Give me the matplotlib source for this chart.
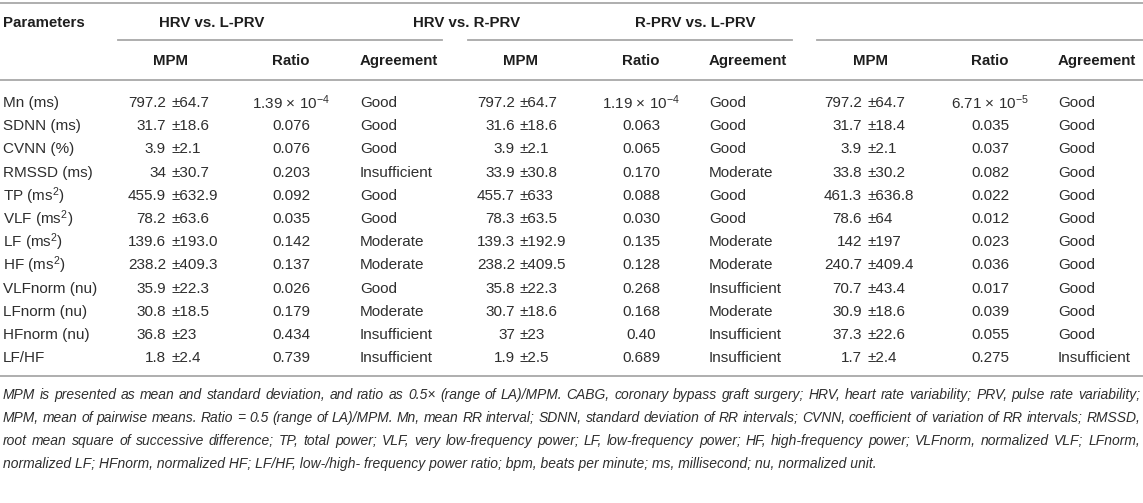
import matplotlib
matplotlib.use('Agg')
import matplotlib.pyplot as plt

plt.rcParams['font.family'] = ['Liberation Sans', 'DejaVu Sans']
plt.rcParams['mathtext.fontset'] = 'custom'
plt.rcParams['mathtext.rm'] = 'Liberation Sans'
plt.rcParams['mathtext.it'] = 'Liberation Sans:italic'

# table data
params = ['Mn (ms)', 'SDNN (ms)', 'CVNN (%)', 'RMSSD (ms)', 'TP (ms$^2$)', 'VLF (ms$^2$)',
          'LF (ms$^2$)', 'HF (ms$^2$)', 'VLFnorm (nu)', 'LFnorm (nu)', 'HFnorm (nu)', 'LF/HF']
groups = ['HRV vs. L-PRV', 'HRV vs. R-PRV', 'R-PRV vs. L-PRV']
sub_headers = ['MPM', 'Ratio', 'Agreement']

mean_1 = ['797.2', '31.7', '3.9', '34', '455.9', '78.2', '139.6', '238.2', '35.9', '30.8', '36.8', '1.8']
sd_1 = ['64.7', '18.6', '2.1', '30.7', '632.9', '63.6', '193.0', '409.3', '22.3', '18.5', '23', '2.4']
ratio_1 = [r'1.39 $\times$ 10$^{-4}$', '0.076', '0.076', '0.203', '0.092', '0.035', '0.142', '0.137',
           '0.026', '0.179', '0.434', '0.739']
agree_1 = ['Good', 'Good', 'Good', 'Insufficient', 'Good', 'Good', 'Moderate', 'Moderate',
           'Good', 'Moderate', 'Insufficient', 'Insufficient']

mean_2 = ['797.2', '31.6', '3.9', '33.9', '455.7', '78.3', '139.3', '238.2', '35.8', '30.7', '37', '1.9']
sd_2 = ['64.7', '18.6', '2.1', '30.8', '633', '63.5', '192.9', '409.5', '22.3', '18.6', '23', '2.5']
ratio_2 = [r'1.19 $\times$ 10$^{-4}$', '0.063', '0.065', '0.170', '0.088', '0.030', '0.135', '0.128',
           '0.268', '0.168', '0.40', '0.689']
agree_2 = ['Good', 'Good', 'Good', 'Moderate', 'Good', 'Good', 'Moderate', 'Moderate',
           'Insufficient', 'Moderate', 'Insufficient', 'Insufficient']

mean_3 = ['797.2', '31.7', '3.9', '33.8', '461.3', '78.6', '142', '240.7', '70.7', '30.9', '37.3', '1.7']
sd_3 = ['64.7', '18.4', '2.1', '30.2', '636.8', '64', '197', '409.4', '43.4', '18.6', '22.6', '2.4']
ratio_3 = [r'6.71 $\times$ 10$^{-5}$', '0.035', '0.037', '0.082', '0.022', '0.012', '0.023', '0.036',
           '0.017', '0.039', '0.055', '0.275']
agree_3 = ['Good', 'Good', 'Good', 'Good', 'Good', 'Good', 'Good', 'Good',
           'Good', 'Good', 'Good', 'Insufficient']

footnote = [
    'MPM is presented as mean and standard deviation, and ratio as 0.5\u00d7 (range of LA)/MPM. CABG, coronary bypass graft surgery; HRV, heart rate variability; PRV, pulse rate variability;',
    'MPM, mean of pairwise means. Ratio = 0.5 (range of LA)/MPM. Mn, mean RR interval; SDNN, standard deviation of RR intervals; CVNN, coefficient of variation of RR intervals; RMSSD,',
    'root mean square of successive difference; TP, total power; VLF, very low-frequency power; LF, low-frequency power; HF, high-frequency power; VLFnorm, normalized VLF; LFnorm,',
    'normalized LF; HFnorm, normalized HF; LF/HF, low-/high- frequency power ratio; bpm, beats per minute; ms, millisecond; nu, normalized unit.',
]

means = [mean_1, mean_2, mean_3]
sds = [sd_1, sd_2, sd_3]
ratios = [ratio_1, ratio_2, ratio_3]
agrees = [agree_1, agree_2, agree_3]

W, H = 1143, 503
fig = plt.figure(figsize=(W / 100, H / 100), dpi=100)
ax = fig.add_axes([0, 0, 1, 1])
ax.set_xlim(0, W)
ax.set_ylim(H, 0)
ax.axis('off')

hdr_c = '#1e1e1e'
txt_c = '#2e2e2e'
line_c = '#a8a8a8'
fs = 11
hfs = 10.8

# layout (pixels)
mean_right = [166, 515, 862]
mpm_center = [171, 520, 870]
ratio_center = [291, 641, 990]
agree_left = [360, 709, 1058]
group_center = [212, 467, 695]
group_lines = [(118, 442), (468, 792), (817, 1143)]
y_group, y_sub = 23, 61
y_row0, row_h = 103, 23.2

# rules
ax.plot([0, W], [3, 3], color=line_c, lw=1.3)
for x0, x1 in group_lines:
    ax.plot([x0, x1], [40, 40], color=line_c, lw=1.3)
ax.plot([0, W], [80, 80], color=line_c, lw=1.3)
y_bottom = y_row0 + 11 * row_h + 18
ax.plot([0, W], [y_bottom, y_bottom], color=line_c, lw=1.3)

# headers
ax.text(3, y_group, 'Parameters', fontsize=hfs, fontweight='bold', color=hdr_c, va='center', ha='left')
for g in range(3):
    ax.text(group_center[g], y_group, groups[g], fontsize=hfs, fontweight='bold', color=hdr_c,
            va='center', ha='center')
    ax.text(mpm_center[g], y_sub, sub_headers[0], fontsize=hfs, fontweight='bold', color=hdr_c,
            va='center', ha='center')
    ax.text(ratio_center[g], y_sub, sub_headers[1], fontsize=hfs, fontweight='bold', color=hdr_c,
            va='center', ha='center')
    ax.text(agree_left[g], y_sub, sub_headers[2], fontsize=hfs, fontweight='bold', color=hdr_c,
            va='center', ha='left')

# rows
for i, p in enumerate(params):
    y = y_row0 + i * row_h
    ax.text(3, y, p, fontsize=fs, color=txt_c, va='center', ha='left')
    for g in range(3):
        ax.text(mean_right[g], y, means[g][i], fontsize=fs, color=txt_c, va='center', ha='right')
        ax.text(mean_right[g] + 5, y, '\u00b1' + sds[g][i], fontsize=fs, color=txt_c, va='center', ha='left')
        ax.text(ratio_center[g], y, ratios[g][i], fontsize=fs, color=txt_c, va='center', ha='center')
        ax.text(agree_left[g], y, agrees[g][i], fontsize=fs, color=txt_c, va='center', ha='left')

# footnote, justified to the full width except the last line
fig.canvas.draw()
renderer = fig.canvas.get_renderer()
y_foot0, foot_h = y_bottom + 19, 23
left, right = 3, W - 3
ffs = 10
probe = ax.text(0, 0, footnote[0], fontsize=ffs, fontstyle='italic')
wpx = probe.get_window_extent(renderer).width
probe.remove()
ffs = ffs * (right - left) / wpx * 0.99
for k, line in enumerate(footnote):
    y = y_foot0 + k * foot_h
    if k == len(footnote) - 1:
        ax.text(left, y, line, fontsize=ffs, fontstyle='italic', color=txt_c, va='center', ha='left')
        continue
    words = line.split(' ')
    widths = []
    for w in words:
        t = ax.text(0, 0, w, fontsize=ffs, fontstyle='italic')
        widths.append(t.get_window_extent(renderer).width)
        t.remove()
    gap = (right - left - sum(widths)) / (len(words) - 1)
    x = left
    for w, wd in zip(words, widths):
        ax.text(x, y, w, fontsize=ffs, fontstyle='italic', color=txt_c, va='center', ha='left')
        x += wd + gap

fig.savefig('out.png', dpi=100)
